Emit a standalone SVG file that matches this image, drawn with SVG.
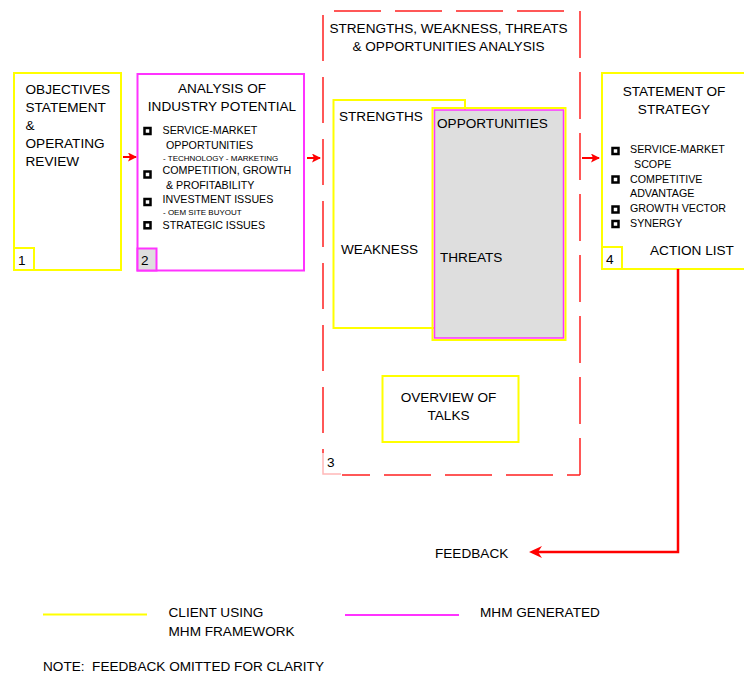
<svg xmlns="http://www.w3.org/2000/svg" width="744" height="675" viewBox="0 0 744 675">
<defs>
<style>
text{font-family:"Liberation Sans",Arial,Helvetica,sans-serif;fill:#000;}
.t{font-size:13.6px;}
.s{font-size:10.7px;}
.xs{font-size:8px;}
.m{text-anchor:middle;}
.yel{fill:#fff;stroke:#ffff00;stroke-width:2;}
.mag{fill:#fff;stroke:#ff33ff;stroke-width:2;}
.cb{fill:#fff;stroke:#000;stroke-width:2.5;}
.dash{stroke:#ff2020;stroke-width:1.5;fill:none;}
.arr{stroke:#ff0000;stroke-width:2;fill:none;}
</style>
<marker id="ah" markerWidth="9" markerHeight="9" refX="8" refY="4.5" orient="auto" markerUnits="userSpaceOnUse">
<path d="M0,0 L9,4.5 L0,9 L2,4.5 Z" fill="#ff0000"/>
</marker>
</defs>
<rect width="744" height="675" fill="#fff"/>

<g id="node1">
<rect class="yel" x="14" y="73" width="107" height="197"/>
<rect class="yel" x="14" y="248" width="20" height="22"/>
<text class="t" x="25.5" y="94">OBJECTIVES</text>
<text class="t" x="25.5" y="112">STATEMENT</text>
<text class="t" x="25.5" y="130">&amp;</text>
<text class="t" x="25.5" y="148">OPERATING</text>
<text class="t" x="25.5" y="166">REVIEW</text>
<text class="t" x="18" y="265">1</text>
</g>

<g id="node2">
<rect class="mag" x="137.5" y="74" width="166.5" height="196.5"/>
<rect x="137.5" y="248.5" width="19" height="22" fill="#dedede" stroke="#ff33ff" stroke-width="2"/>
<text class="t m" x="222" y="93">ANALYSIS OF</text>
<text class="t m" x="222" y="111">INDUSTRY POTENTIAL</text>
<rect class="cb" x="144.5" y="128" width="6" height="6"/>
<rect class="cb" x="144.5" y="171.5" width="6" height="6"/>
<rect class="cb" x="144.5" y="199" width="6" height="6"/>
<rect class="cb" x="144.5" y="222.3" width="6" height="6"/>
<text class="s" x="162.5" y="134">SERVICE-MARKET</text>
<text class="s" x="166" y="148.5">OPPORTUNITIES</text>
<text class="xs" x="163" y="160.5">- TECHNOLOGY - MARKETING</text>
<text class="s" x="162.5" y="174">COMPETITION, GROWTH</text>
<text class="s" x="166" y="188.5">&amp; PROFITABILITY</text>
<text class="s" x="162.5" y="202.5">INVESTMENT ISSUES</text>
<text class="xs" x="163" y="214.5">- OEM SITE BUYOUT</text>
<text class="s" x="162.5" y="228.5">STRATEGIC ISSUES</text>
<text class="t" x="141" y="265">2</text>
</g>

<g id="node3">
<line class="dash" x1="334" y1="11" x2="570" y2="11" stroke-dasharray="47 14"/>
<line class="dash" x1="580" y1="11" x2="580" y2="475" stroke-dasharray="47 14"/>
<line class="dash" x1="580" y1="475" x2="342" y2="475" stroke-dasharray="47 14" stroke-dashoffset="34"/>
<line class="dash" x1="323" y1="15" x2="323" y2="453" stroke-dasharray="46 16"/>
<polyline points="323,453 323,474 341,474" fill="none" stroke="#ffb8b8" stroke-width="1.5"/>
<text class="t m" x="448.5" y="33">STRENGTHS, WEAKNESS, THREATS</text>
<text class="t m" x="448.5" y="51">&amp; OPPORTUNITIES ANALYSIS</text>
<text class="t" x="327" y="467">3</text>
</g>

<g id="node3a">
<rect class="yel" x="333.5" y="100" width="131.5" height="228"/>
<text class="t" x="339" y="121">STRENGTHS</text>
<text class="t" x="341" y="254">WEAKNESS</text>
</g>

<g id="node3b">
<rect x="432.5" y="108" width="133" height="232" fill="none" stroke="#ffff00" stroke-width="2"/>
<rect x="434.5" y="110" width="129" height="228" fill="#dedede" stroke="#ff33ff" stroke-width="1.5"/>
<text class="t" x="437" y="127.5">OPPORTUNITIES</text>
<text class="t" x="440" y="262">THREATS</text>
</g>

<g id="node3c">
<rect class="yel" x="382.5" y="376" width="136" height="66"/>
<text class="t m" x="448.5" y="401.5">OVERVIEW OF</text>
<text class="t m" x="448.5" y="419.5">TALKS</text>
</g>

<g id="node4">
<rect class="yel" x="602" y="73" width="160" height="196"/>
<rect class="yel" x="602" y="247" width="20" height="22"/>
<text class="t m" x="674" y="96">STATEMENT OF</text>
<text class="t m" x="674" y="114">STRATEGY</text>
<rect class="cb" x="612.5" y="148" width="6" height="6"/>
<rect class="cb" x="612.5" y="176.5" width="6" height="6"/>
<rect class="cb" x="612.5" y="206.5" width="6" height="6"/>
<rect class="cb" x="612.5" y="221" width="6" height="6"/>
<text class="s" x="630" y="153.3">SERVICE-MARKET</text>
<text class="s" x="634" y="168.3">SCOPE</text>
<text class="s" x="630" y="182.7">COMPETITIVE</text>
<text class="s" x="630" y="197.3">ADVANTAGE</text>
<text class="s" x="630" y="211.7">GROWTH VECTOR</text>
<text class="s" x="630" y="226.7">SYNERGY</text>
<text class="t" x="650" y="255">ACTION LIST</text>
<text class="t" x="606" y="263.5">4</text>
</g>

<g id="feedback">
<text class="t" x="435" y="558">FEEDBACK</text>
</g>

<g id="connectors">
<line class="arr" x1="123" y1="157" x2="136" y2="157" marker-end="url(#ah)"/>
<line class="arr" x1="307" y1="158" x2="320" y2="158" marker-end="url(#ah)"/>
<line class="arr" x1="582" y1="158" x2="599" y2="158" marker-end="url(#ah)"/>
<polyline points="678,269 678,552 535,552" fill="none" stroke="#ff0000" stroke-width="2.5"/>
<path d="M529,552 L542,546 L538,552 L542,558 Z" fill="#ff0000"/>
</g>

<g id="legend">
<line x1="43" y1="614.5" x2="147" y2="614.5" stroke="#ffff00" stroke-width="2"/>
<text class="t" x="168.5" y="617">CLIENT USING</text>
<text class="t" x="168.5" y="636">MHM FRAMEWORK</text>
<line x1="345" y1="615" x2="459" y2="615" stroke="#ff33ff" stroke-width="2"/>
<text class="t" x="480" y="617">MHM GENERATED</text>
<text class="t" x="43" y="671" style="white-space:pre" xml:space="preserve">NOTE:  FEEDBACK OMITTED FOR CLARITY</text>
</g>
</svg>
